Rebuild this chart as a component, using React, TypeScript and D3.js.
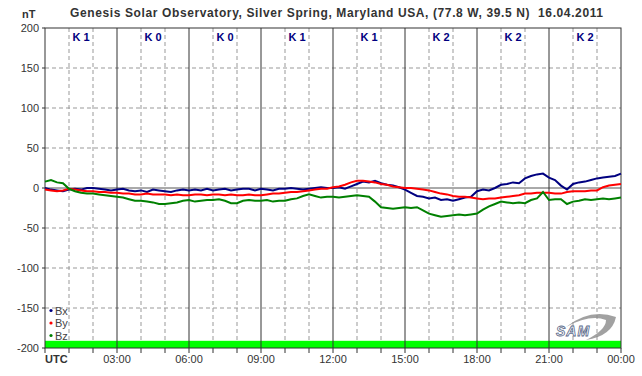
import React from "react";
import * as d3 from "d3";

const title = "Genesis Solar Observatory, Silver Spring, Maryland USA, (77.8 W, 39.5 N)  16.04.2011";
const kIndex = ["K 1", "K 0", "K 0", "K 1", "K 1", "K 2", "K 2", "K 2"];
const yTicks = [200, 150, 100, 50, 0, -50, -100, -150, -200];
const xTickLabels = ["03:00", "06:00", "09:00", "12:00", "15:00", "18:00", "21:00", "00:00"];
const seriesNames = ["Bx", "By", "Bz"];
const seriesColors = ["#000080", "#ff0000", "#008000"];

// values every 15 minutes, 00:00 .. 24:00 (nT)
const bx = [
  0, -2, -3, -4, -2, -1, -2, 0, 0, -1, -2, -3, -2, -1, -3, -4,
  -3, -5, -2, -3, -4, -5, -3, -2, -3, -2, -3, -1, -3, -2, -1, -3,
  -2, -1, -1, -3, -1, -2, -3, -1, -1, 0, -1, -2, -1, 0, 1, 0,
  0, 1, -1, 2, 5, 8, 7, 9, 6, 4, 3, 1, -2, -6, -10, -11,
  -13, -12, -15, -14, -16, -14, -12, -11, -4, -2, -3, 0, 4, 5, 7, 6,
  12, 15, 17, 18, 13, 10, 3, -2, 5, 7, 8, 10, 12, 13, 14, 15, 18,
];
const by = [
  -2, -3, -4, -3, -1, -2, -3, -4, -4, -5, -5, -6, -6, -7, -7, -8,
  -8, -7, -8, -8, -8, -9, -8, -9, -9, -8, -8, -9, -8, -8, -9, -8,
  -9, -9, -8, -9, -9, -8, -7, -7, -6, -5, -5, -4, -3, -2, -1, -1,
  1, 2, 4, 7, 9, 9, 8, 7, 5, 4, 2, 1, 0, 0, -1, -2,
  -3, -5, -7, -8, -10, -11, -11, -12, -13, -14, -13, -13, -12, -11, -10, -9,
  -7, -7, -6, -6, -6, -7, -7, -5, -4, -4, -4, -3, -3, 1, 3, 4, 5,
];
const bz = [
  8, 10, 7, 6, -1, -4, -6, -7, -7, -8, -9, -10, -11, -12, -14, -16,
  -16, -17, -18, -20, -20, -19, -18, -16, -15, -17, -16, -15, -15, -14, -16, -19,
  -19, -16, -15, -16, -16, -15, -17, -16, -16, -14, -13, -10, -8, -10, -12, -11,
  -11, -12, -11, -10, -9, -10, -11, -17, -24, -25, -26, -25, -24, -25, -24, -28,
  -32, -34, -36, -35, -34, -33, -34, -33, -32, -27, -23, -20, -17, -18, -19, -18,
  -19, -15, -13, -5, -15, -14, -14, -20, -17, -16, -14, -15, -14, -13, -14, -13, -12,
];
const series = [bx, by, bz];

const W = 642, H = 376;
const L = 45, R = 621, T = 28, B = 348;

export default function App() {
  const x = d3.scaleLinear().domain([0, 24]).range([L, R]);
  const y = d3.scaleLinear().domain([-200, 200]).range([B, T]);
  const line = d3
    .line<number>()
    .x((_, i) => x(i / 4))
    .y((d) => y(d))
    .curve(d3.curveLinear);
  const hours = d3.range(0, 25);
  const font = "'Liberation Sans', Arial, sans-serif";
  return (
    <svg
      width={W}
      height={H}
      style={{ position: "absolute", left: 0, top: 0, background: "#fff" }}
      fontFamily={font}
    >
      <rect x={0} y={0} width={W} height={H} fill="#fff" />
      <text x={70} y={17} fontSize={12} fontWeight="bold" fill="#333" textLength={533} lengthAdjust="spacing" style={{ whiteSpace: "pre" }}>
        {title}
      </text>
      <text x={22} y={18} fontSize={11} fontWeight="bold" fill="#333">nT</text>
      {/* green band */}
      <rect x={L} y={y(-191)} width={R - L} height={B - y(-191)} fill="#00ff00" />
      {/* horizontal dashed grid */}
      {yTicks.filter((v) => v !== 0 && v !== 200 && v !== -200).map((v) => (
        <line key={"h" + v} x1={L} x2={R} y1={y(v)} y2={y(v)} stroke="#999" strokeDasharray="4,3" />
      ))}
      {/* vertical dashed grid */}
      {hours.filter((h) => h % 3 !== 0).map((h) => (
        <line key={"vd" + h} x1={x(h)} x2={x(h)} y1={T} y2={y(-191)} stroke="#999" strokeDasharray="4,3" />
      ))}
      {/* zero line */}
      <line x1={L} x2={R} y1={y(0)} y2={y(0)} stroke="#555" />
      {/* vertical solid lines */}
      {hours.filter((h) => h % 3 === 0 && h > 0 && h < 24).map((h) => (
        <line key={"vs" + h} x1={x(h)} x2={x(h)} y1={T} y2={B} stroke="#333" />
      ))}
      {/* frame */}
      <rect x={L} y={T} width={R - L} height={B - T} fill="none" stroke="#333" />
      {/* y ticks & labels */}
      {yTicks.map((v) => (
        <g key={"yt" + v}>
          <line x1={L - 3} x2={L} y1={y(v)} y2={y(v)} stroke="#333" />
          <text x={39} y={y(v) + 4} textAnchor="end" fontSize={11} fill="#333">{v}</text>
        </g>
      ))}
      {/* x ticks */}
      {hours.map((h) => (
        <line key={"xt" + h} x1={x(h)} x2={x(h)} y1={B} y2={B + 5} stroke="#333" />
      ))}
      <text x={L} y={363} fontSize={11} fontWeight="bold" fill="#333">UTC</text>
      {xTickLabels.map((s, i) => (
        <text key={"xl" + s} x={x((i + 1) * 3)} y={363} textAnchor="middle" fontSize={11} fill="#333">{s}</text>
      ))}
      {/* K index labels */}
      {kIndex.map((k, i) => (
        <text key={"k" + i} x={x(i * 3 + 1.5)} y={41} textAnchor="middle" fontSize={11} fontWeight="bold" fill="#000080">{k}</text>
      ))}
      {/* series */}
      {series.map((s, i) => (
        <path key={"s" + i} d={line(s) || ""} fill="none" stroke={seriesColors[i]} strokeWidth={2} />
      ))}
      {/* legend */}
      {seriesNames.map((n, i) => (
        <g key={"lg" + n}>
          <circle cx={51} cy={310.5 + i * 12.5} r={1.6} fill={seriesColors[i]} />
          <text x={55} y={314.5 + i * 12.5} fontSize={11} fill="#444">{n}</text>
        </g>
      ))}
      {/* SAM logo */}
      <g>
        <path d="M566,327 Q590,308 616,317 Q612,336 586,340 Q606,330 606,320 Q590,314 566,327 Z" fill="#8a8a8a" opacity={0.8} />
        <text x={556} y={336} fontSize={14} fontStyle="italic" fontWeight="bold" fill="#fff" stroke="#5a6a8a" strokeWidth={0.8} letterSpacing={1}>SAM</text>
      </g>
    </svg>
  );
}
